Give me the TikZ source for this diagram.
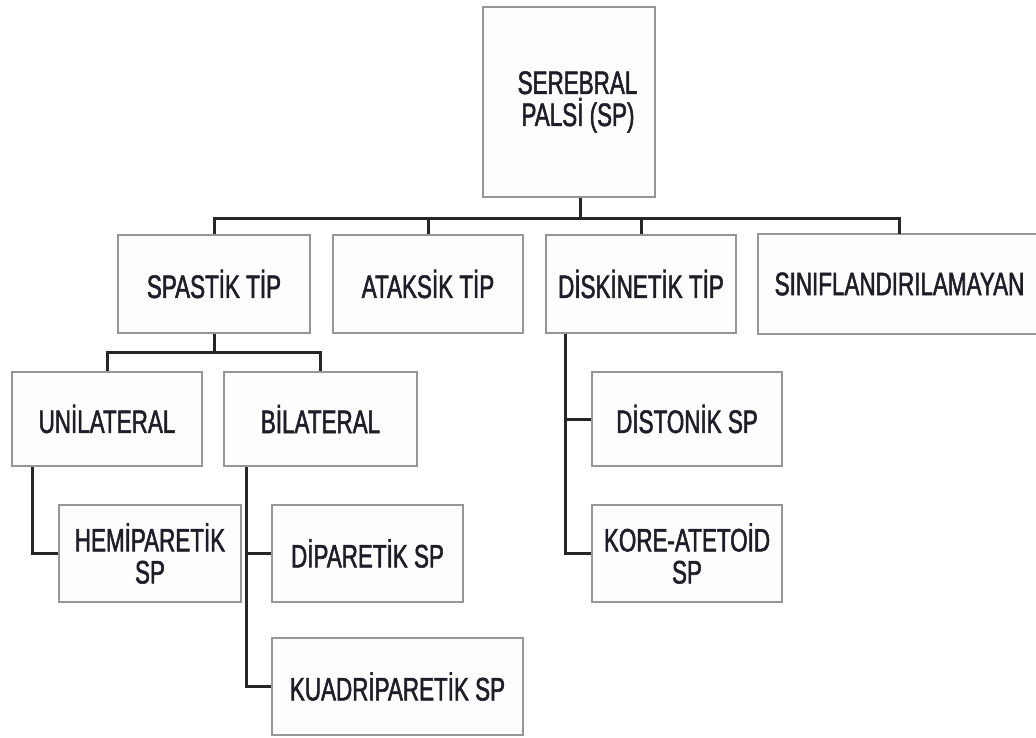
\documentclass[tikz,border=0pt]{standalone}
\usepackage{fontspec}
\setmainfont[FakeStretch=0.69,FakeBold=1.6]{Liberation Sans}
\definecolor{boxline}{RGB}{150,150,150}
\definecolor{boxfill}{RGB}{253,253,253}
\definecolor{txt}{RGB}{30,30,40}
\tikzset{
  box/.style={draw=boxline, line width=1.6pt, fill=boxfill, inner sep=0pt,
    align=center, text=txt, font=\fontsize{32.5}{32}\selectfont},
  openbox/.style={box, draw=none},
  conn/.style={draw=black!85, line width=3pt},
}
\begin{document}
\begin{tikzpicture}[x=1pt,y=-1pt]
\useasboundingbox (0,0) rectangle (1036,737);
\fill[white] (0,0) rectangle (1036,737);
% nodes
\node[box, minimum width=172pt, minimum height=190pt] (root) at (569,102) {\hspace*{17pt}SEREBRAL\\\hspace*{18pt}PALSİ (SP)};
\node[box, minimum width=192pt, minimum height=98pt] (spastik) at (214,284) {SPASTİK TİP};
\node[box, minimum width=190pt, minimum height=98pt] (ataksik) at (428,284) {ATAKSİK TİP};
\node[box, minimum width=190pt, minimum height=98pt] (diskinetik) at (641,284) {DİSKİNETİK TİP};
\coordinate (sinifright) at (1036,284);
\node[openbox, minimum width=277pt, minimum height=98pt] (sinif) at (897.5,284) {\hspace*{4pt}SINIFLANDIRILAMAYAN};
\draw[draw=boxline, line width=1.6pt] (sinif.north -| sinifright) -- (sinif.north west) -- (sinif.south west) -- (sinif.south -| sinifright);
\node[box, minimum width=190pt, minimum height=94pt] (unilateral) at (107,419) {UNİLATERAL};
\node[box, minimum width=193pt, minimum height=94pt] (bilateral) at (320.5,419) {BİLATERAL};
\node[box, minimum width=182pt, minimum height=97pt] (hemi) at (150,553.5) {HEMİPARETİK\\SP};
\node[box, minimum width=191pt, minimum height=97pt] (dipar) at (367.5,553.5) {DİPARETİK SP};
\node[box, minimum width=251pt, minimum height=97pt] (kuadri) at (397.5,686.5) {KUADRİPARETİK SP};
\node[box, minimum width=190pt, minimum height=94pt] (distonik) at (687,419) {DİSTONİK SP};
\node[box, minimum width=190pt, minimum height=97pt] (kore) at (687,553.5) {KORE-ATETOİD\\SP};
% bus coordinates
\coordinate (bus) at (0,218);
\coordinate (bus2) at (0,352);
% level 1 connectors
\draw[conn] ([xshift=11pt]root.south) -- ([xshift=11pt]root.south |- bus);
\draw[conn] (spastik.north) -- (spastik.north |- bus) -- ([xshift=1.5pt]sinif.north |- bus) -- ([xshift=1.5pt]sinif.north);
\draw[conn] (ataksik.north) -- (ataksik.north |- bus);
\draw[conn] (diskinetik.north) -- (diskinetik.north |- bus);
% spastik
\draw[conn] (spastik.south) -- (spastik.south |- bus2);
\draw[conn] (unilateral.north) -- (unilateral.north |- bus2) -- (bilateral.north |- bus2) -- (bilateral.north);
% unilateral
\draw[conn] ([xshift=-75pt]unilateral.south) |- (hemi.west);
% bilateral
\draw[conn] ([xshift=-74.5pt]bilateral.south) |- (kuadri.west);
\draw[conn] ([xshift=-74.5pt]bilateral.south |- dipar.west) -- (dipar.west);
% diskinetik
\draw[conn] ([xshift=-76pt]diskinetik.south) |- (kore.west);
\draw[conn] ([xshift=-76pt]diskinetik.south |- distonik.west) -- (distonik.west);
\end{tikzpicture}
\end{document}
